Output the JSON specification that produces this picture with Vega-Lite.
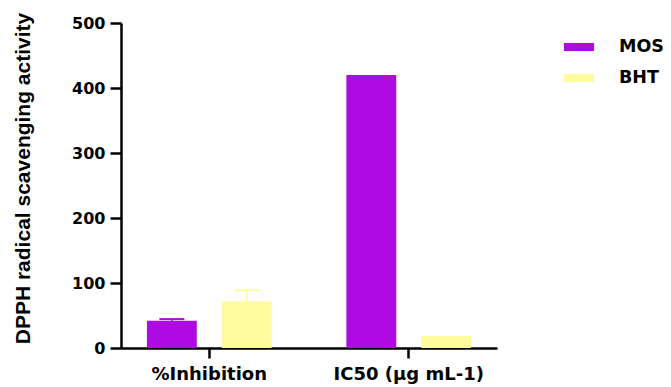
{
  "$schema": "https://vega.github.io/schema/vega-lite/v6.json",
  "autosize": "none",
  "width": 376,
  "height": 325,
  "padding": {"left": 121, "top": 23, "right": 174, "bottom": 39},
  "background": "white",
  "config": {
    "view": {"stroke": null},
    "axis": {"grid": false, "domainColor": "black", "tickColor": "black", "labelColor": "black", "titleColor": "black", "domainWidth": 2.5, "tickWidth": 2.5}
  },
  "data": {
    "values": [
      {"category": "%Inhibition", "group": "MOS", "value": 42, "upper": 44.5},
      {"category": "%Inhibition", "group": "BHT", "value": 71.8, "upper": 89},
      {"category": "IC50 (µg mL-1)", "group": "MOS", "value": 420, "upper": null},
      {"category": "IC50 (µg mL-1)", "group": "BHT", "value": 18.5, "upper": null}
    ]
  },
  "encoding": {
    "x": {
      "field": "category", "type": "nominal", "sort": null,
      "scale": {"paddingInner": 0.375, "paddingOuter": 0.13},
      "axis": {"title": null, "labelAngle": 0, "tickSize": 10, "labelPadding": 7, "labelFont": "DejaVu Sans", "labelFontWeight": "bold", "labelFontSize": 18}
    },
    "xOffset": {"field": "group", "type": "nominal", "sort": ["MOS", "BHT"], "scale": {"paddingInner": 0.3333, "paddingOuter": 0}},
    "color": {
      "field": "group", "type": "nominal",
      "scale": {"domain": ["MOS", "BHT"], "range": ["#ae0ae2", "#fdfd9d"]}
    }
  },
  "layer": [
    {
      "mark": {"type": "bar"},
      "encoding": {
        "y": {
          "field": "value", "type": "quantitative",
          "scale": {"domain": [0, 500], "nice": false},
          "axis": {"title": "DPPH radical scavenging activity", "values": [0, 100, 200, 300, 400, 500], "tickSize": 11, "labelPadding": 5, "labelFont": "DejaVu Sans", "labelFontWeight": "bold", "labelFontSize": 16, "titleFont": "Liberation Sans", "titleFontWeight": "bold", "titleFontSize": 21, "titlePadding": 38, "titleY": 155}
        },
        "color": {
          "field": "group", "type": "nominal",
          "scale": {"domain": ["MOS", "BHT"], "range": ["#ae0ae2", "#fdfd9d"]},
          "legend": {
            "title": null, "orient": "none", "legendX": 443, "legendY": 9, "padding": 0,
            "symbolType": "M-1,-0.27H1V0.27H-1Z", "symbolSize": 900, "symbolStrokeWidth": 0, "symbolOpacity": 1,
            "labelFont": "DejaVu Sans", "labelFontWeight": "bold", "labelFontSize": 17.5, "labelColor": "black", "labelOffset": 25, "rowPadding": 7
          }
        }
      }
    },
    {
      "transform": [{"filter": "datum.upper != null"}],
      "mark": {"type": "rule", "strokeWidth": 2},
      "encoding": {
        "y": {"field": "value", "type": "quantitative"},
        "y2": {"field": "upper"},
        "color": {"field": "group", "type": "nominal", "legend": null}
      }
    },
    {
      "transform": [{"filter": "datum.upper != null"}],
      "mark": {"type": "tick", "size": 25, "thickness": 2, "orient": "horizontal", "opacity": 1},
      "encoding": {
        "y": {"field": "upper", "type": "quantitative"},
        "color": {"field": "group", "type": "nominal", "legend": null}
      }
    }
  ]
}
